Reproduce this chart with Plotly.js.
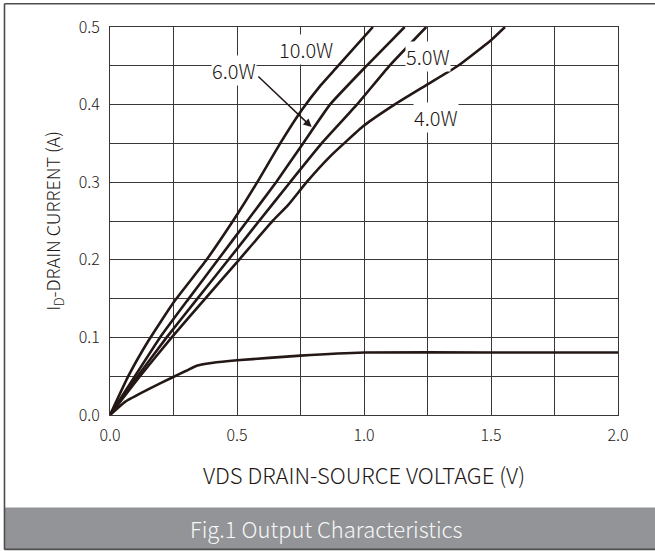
<!DOCTYPE html>
<html>
<head>
<meta charset="utf-8">
<script src="https://cdn.plot.ly/plotly-3.0.1.min.js"></script>
<style>html,body{margin:0;padding:0;background:#fff;}#chart{width:655px;height:551px;}</style>
</head>
<body>
<div id="chart"></div>
<script>
// Data
const v10W = [0, 0.072, 0.15, 0.25, 0.38, 0.5, 0.58, 0.67, 0.755, 0.83, 0.89, 1.035];
const i10W = [0, 0.05, 0.095, 0.145, 0.2, 0.258, 0.30, 0.35, 0.393, 0.425, 0.447, 0.5];

const v6W = [0, 0.098, 0.197, 0.31, 0.425, 0.54, 0.654, 0.76, 0.866, 1.01, 1.16];
const i6W = [0, 0.05, 0.1, 0.15, 0.2, 0.25, 0.30, 0.35, 0.40, 0.45, 0.5];

const v5W = [0, 0.109, 0.223, 0.344, 0.466, 0.587, 0.709, 0.833, 0.972, 1.10, 1.245];
const i5W = [0, 0.05, 0.1, 0.15, 0.2, 0.25, 0.30, 0.35, 0.40, 0.45, 0.5];

const v4W = [0, 0.118, 0.243, 0.375, 0.508, 0.643, 0.70, 0.774, 0.866, 1.0, 1.12, 1.25, 1.37, 1.5, 1.555];
const i4W = [0, 0.05, 0.1, 0.15, 0.2, 0.251, 0.27, 0.30, 0.333, 0.373, 0.40, 0.426, 0.45, 0.483, 0.5];

const vLow = [0, 0.059, 0.15, 0.249, 0.30, 0.341, 0.40, 0.5, 0.75, 1.0, 1.5, 2.0];
const iLow = [0, 0.017, 0.033, 0.049, 0.057, 0.0635, 0.067, 0.0705, 0.0765, 0.0805, 0.0805, 0.0805];

const xTickVals = [0, 0.5, 1.0, 1.5, 2.0];
const xTickText = ['0.0', '0.5', '1.0', '1.5', '2.0'];
const yTickVals = [0, 0.1, 0.2, 0.3, 0.4, 0.5];
const yTickText = ['0.0', '0.1', '0.2', '0.3', '0.4', '0.5'];

const labelText = ['10.0W', '6.0W', '5.0W', '4.0W'];
const labelX = [0.772, 0.488, 1.252, 1.283];
const labelY = [0.471, 0.444, 0.462, 0.383];

const FONT = '"Noto Sans CJK JP", "Noto Sans", sans-serif';
const INK = '#231815';
const GRID = '#3a3536';

const curves = [[v10W, i10W], [v6W, i6W], [v5W, i5W], [v4W, i4W], [vLow, iLow]];
const traces = curves.map(c => ({
  x: c[0], y: c[1], type: 'scatter', mode: 'lines',
  line: {color: INK, width: 2.6, shape: 'spline', smoothing: 0.4},
  hoverinfo: 'skip', showlegend: false
}));

const annotations = labelText.map((t, k) => ({
  x: labelX[k], y: labelY[k], xref: 'x', yref: 'y', text: t, showarrow: false,
  font: {family: FONT, size: 20, color: INK, weight: 300}, bgcolor: '#ffffff', borderpad: 0,
  xanchor: 'center', yanchor: 'middle'
}));
annotations.push({
  x: 0.794, y: 0.371, ax: 0.578, ay: 0.438, axref: 'x', ayref: 'y', xref: 'x', yref: 'y',
  text: '', showarrow: true, arrowhead: 2, arrowsize: 1.1, arrowwidth: 1.5, arrowcolor: INK
});
annotations.push({
  x: 0.427, y: -0.291, xref: 'paper', yref: 'paper', text: 'Fig.1 Output Characteristics',
  showarrow: false, font: {family: FONT, size: 22, color: '#f7f7f7', weight: 300}, xanchor: 'center', yanchor: 'middle'
});

const layout = {
  width: 655, height: 551,
  margin: {l: 110, r: 37, t: 27, b: 136},
  paper_bgcolor: '#ffffff', plot_bgcolor: '#ffffff',
  font: {family: FONT, color: INK},
  xaxis: {
    range: [0, 2], tickvals: xTickVals, ticktext: xTickText,
    showgrid: true, gridcolor: GRID, gridwidth: 1, zeroline: false,
    minor: {dtick: 0.25, showgrid: true, gridcolor: GRID, gridwidth: 1, ticks: ''},
    showline: true, linecolor: GRID, linewidth: 1, mirror: true,
    ticks: 'outside', ticklen: 6, tickcolor: 'rgba(0,0,0,0)',
    tickfont: {family: FONT, size: 16, color: INK, weight: 300},
    title: {text: 'VDS DRAIN-SOURCE VOLTAGE (V)', font: {family: FONT, size: 22, color: INK, weight: 300}, standoff: 23},
    fixedrange: true
  },
  yaxis: {
    range: [0, 0.5], tickvals: yTickVals, ticktext: yTickText,
    showgrid: true, gridcolor: GRID, gridwidth: 1, zeroline: false,
    minor: {dtick: 0.05, showgrid: true, gridcolor: GRID, gridwidth: 1, ticks: ''},
    showline: true, linecolor: GRID, linewidth: 1, mirror: true,
    ticks: 'outside', ticklen: 6, tickcolor: 'rgba(0,0,0,0)',
    tickfont: {family: FONT, size: 16, color: INK, weight: 300},
    title: {text: 'I<sub>D</sub>-DRAIN CURRENT (A)', font: {family: FONT, size: 18, color: INK, weight: 300}, standoff: 13},
    fixedrange: true
  },
  shapes: [
    {type: 'rect', xref: 'paper', yref: 'paper', x0: -0.2077, x1: 1.2, y0: -0.2387, y1: -0.3464,
     fillcolor: '#929497', line: {width: 0}, layer: 'below'},
    {type: 'line', xref: 'paper', yref: 'paper', x0: -0.2077, x1: -0.2077, y0: -0.3464, y1: 1.0598,
     line: {color: '#4d4d4d', width: 1.6}, layer: 'below'},
    {type: 'line', xref: 'paper', yref: 'paper', x0: -0.2077, x1: 1.2, y0: 1.0598, y1: 1.0598,
     line: {color: '#4d4d4d', width: 1.6}, layer: 'below'},
    {type: 'line', xref: 'paper', yref: 'paper', x0: -0.2077, x1: 1.2, y0: -0.3464, y1: -0.3464,
     line: {color: '#4d4d4d', width: 1.6}, layer: 'below'}
  ],
  annotations: annotations,
  showlegend: false
};

Plotly.newPlot('chart', traces, layout, {displayModeBar: false, staticPlot: true});
</script>
</body>
</html>
